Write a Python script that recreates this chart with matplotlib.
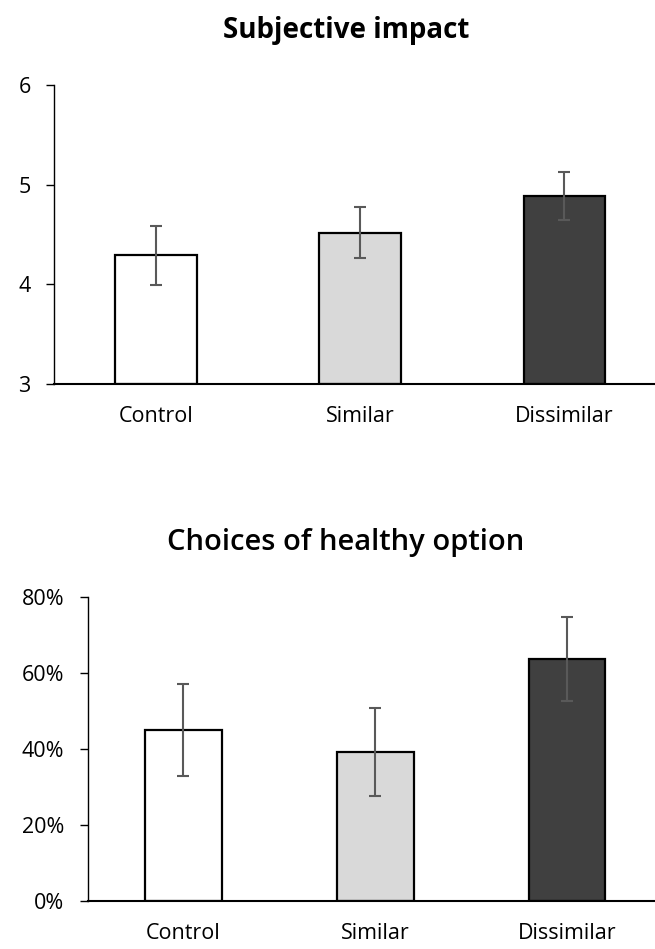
import matplotlib
matplotlib.use('Agg')
import matplotlib.pyplot as plt

plt.rcParams['font.family'] = ['Open Sans', 'DejaVu Sans']

groups = ['Control', 'Similar', 'Dissimilar']
colors = ['#ffffff', '#d9d9d9', '#404040']

impact = [4.29, 4.52, 4.89]
impact_err = [0.30, 0.26, 0.24]

healthy = [44.9, 39.2, 63.6]
healthy_err = [12.1, 11.5, 11.0]

fig = plt.figure(figsize=(6.55, 9.49), dpi=100)

ax1 = fig.add_axes([0.0824, 0.5953, 1.0 - 0.0824 + 0.0175, 0.3151])
ax2 = fig.add_axes([0.1336, 0.0506, 1.0 - 0.1336 + 0.012, 0.3204])


def draw(ax, vals, errs, base):
    x = range(len(groups))
    ax.bar(x, [v - base for v in vals], bottom=base, width=0.4, color=colors,
           edgecolor='black', linewidth=1.6, zorder=2)
    ax.errorbar(x, vals, yerr=errs, fmt='none', ecolor='#595959',
                elinewidth=1.5, capsize=4.3, capthick=1.5, zorder=3)
    ax.set_xlim(-0.5, 2.5)
    ax.set_xticks(list(x))
    ax.set_xticklabels(groups, fontsize=15.5)
    ax.tick_params(axis='x', length=0, pad=16)
    ax.tick_params(axis='y', length=5.8, width=1, labelsize=15.5, pad=11)
    for s in ['top', 'right']:
        ax.spines[s].set_visible(False)
    ax.spines['left'].set_linewidth(1)
    ax.spines['bottom'].set_linewidth(1.5)


draw(ax1, impact, impact_err, 3)
ax1.set_ylim(3, 6)
ax1.set_yticks([3, 4, 5, 6])

draw(ax2, healthy, healthy_err, 0)
ax2.set_ylim(0, 80)
ax2.set_yticks([0, 20, 40, 60, 80])
ax2.set_yticklabels(['0%', '20%', '40%', '60%', '80%'])

fig.text(0.528, 0.968, 'Subjective impact', ha='center', va='center',
         fontsize=20, fontweight='bold')
fig.text(0.528, 0.428, 'Choices of healthy option', ha='center', va='center',
         fontsize=21, fontweight='semibold')

fig.savefig('out.png', dpi=100)
